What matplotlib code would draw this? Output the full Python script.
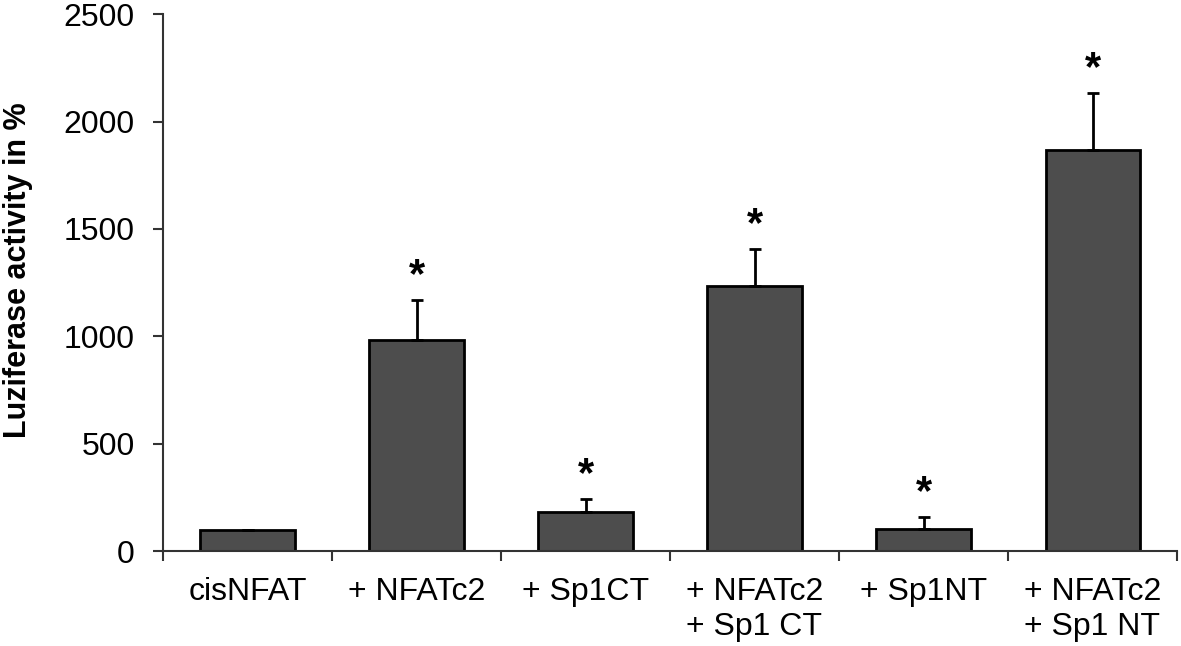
import numpy as np
import matplotlib.pyplot as plt
from matplotlib.ticker import FixedLocator

plt.rcParams['font.family'] = ['Liberation Sans', 'DejaVu Sans']

labels = ['cisNFAT', '+ NFATc2', '+ Sp1CT', '+ NFATc2\n+ Sp1 CT', '+ Sp1NT', '+ NFATc2\n+ Sp1 NT']
values = [100, 982, 182, 1234, 102, 1867]
errors = [0, 186, 60, 172, 56, 265]
stars = [False, True, True, True, True, True]

fig = plt.figure(figsize=(11.81, 6.46), dpi=100)
ax = fig.add_axes([0.138, 0.147, 0.859, 0.831])

x = np.arange(len(labels))
ax.bar(x, values, width=0.56, color='#4d4d4d', edgecolor='black', linewidth=2, zorder=2)
ax.errorbar(x, values, yerr=[np.zeros(len(errors)), errors], fmt='none',
            ecolor='black', elinewidth=2, capsize=4.5, capthick=2, zorder=3)

for xi, v, e, s in zip(x, values, errors, stars):
    if s:
        ax.text(xi, v + e + 60, '*', ha='center', va='baseline', fontsize=30, fontweight='bold')

ax.set_xlim(-0.5, len(labels) - 0.5)
ax.set_ylim(0, 2500)
ax.set_yticks([0, 500, 1000, 1500, 2000, 2500])
ax.set_xticks(x)
ax.set_xticklabels(labels, multialignment='left')
ax.xaxis.set_minor_locator(FixedLocator(np.arange(-0.5, len(labels), 1.0)))

ax.tick_params(axis='x', which='major', length=0, pad=19, labelsize=23)
ax.tick_params(axis='x', which='minor', length=7.5, width=1.5, direction='out', color='#333333')
ax.tick_params(axis='y', length=7.5, width=1.5, direction='out', labelsize=23, pad=13, color='#333333')

for side in ['top', 'right']:
    ax.spines[side].set_visible(False)
for side in ['left', 'bottom']:
    ax.spines[side].set_linewidth(1.5)
    ax.spines[side].set_color('#333333')

ax.set_ylabel('Luziferase activity in %', fontsize=22, fontweight='bold')
ax.yaxis.set_label_coords(-0.128, 0.523)

fig.savefig('out.png', dpi=100)
